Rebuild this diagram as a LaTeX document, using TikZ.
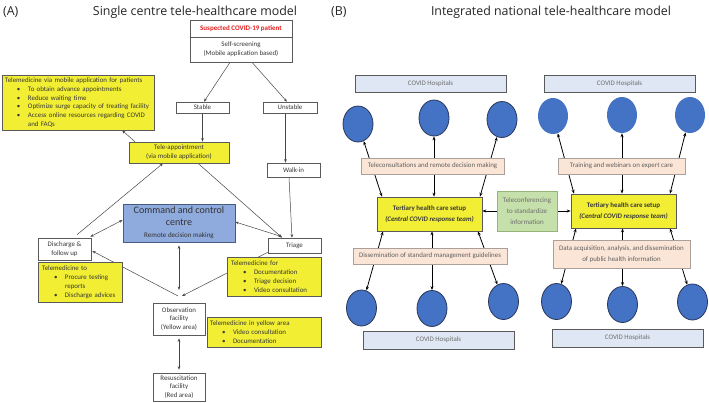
\documentclass[tikz,border=0pt]{standalone}
\usepackage{fontspec}
\setmainfont{Carlito}
\newfontfamily\titlefont{Open Sans}
\usetikzlibrary{arrows.meta,backgrounds,shapes.geometric}
\definecolor{txtgray}{RGB}{55,55,55}
\definecolor{bordgray}{RGB}{90,90,90}
\definecolor{linegray}{RGB}{70,70,70}
\definecolor{yel}{RGB}{242,238,52}
\definecolor{cmdblue}{RGB}{143,170,220}
\definecolor{cmdbord}{RGB}{70,90,130}
\definecolor{cblue}{RGB}{68,114,196}
\definecolor{cbord}{RGB}{40,55,90}
\definecolor{hospblue}{RGB}{222,231,243}
\definecolor{salmon}{RGB}{251,229,214}
\definecolor{salbord}{RGB}{170,160,155}
\definecolor{greenb}{RGB}{197,224,170}
\definecolor{greenbord}{RGB}{150,180,120}
\definecolor{susred}{RGB}{228,30,30}
\definecolor{lighttxt}{RGB}{110,110,110}
\newcommand\tsz{\fontsize{6.9}{8.8}\selectfont}
\newcommand\bi[1]{\hspace*{12pt}\makebox[11pt][l]{\textbullet}#1}
\newcommand\ci{\hspace*{23pt}}
\tikzset{
  wbox/.style={draw=bordgray, fill=white, line width=0.6pt, inner sep=1pt, align=center, font=\tsz, text=txtgray},
  ybox/.style={draw=bordgray, fill=yel, line width=0.6pt, inner xsep=3pt, inner ysep=1pt, align=left, font=\tsz, text=txtgray},
  arr/.style={-{Stealth[length=3.5pt,width=2.6pt]}, line width=0.5pt, draw=linegray},
  dbl/.style={{Stealth[length=3.5pt,width=2.6pt]}-{Stealth[length=3.5pt,width=2.6pt]}, line width=0.5pt, draw=linegray},
  arrb/.style={-{Stealth[length=4pt,width=3pt]}, line width=0.8pt, draw=black},
  dblb/.style={{Stealth[length=4pt,width=3pt]}-{Stealth[length=4pt,width=3pt]}, line width=0.8pt, draw=black},
  hosp/.style={draw=bordgray, fill=hospblue, line width=0.7pt, minimum width=151pt, minimum height=17pt, inner sep=0pt, font=\tsz, text=lighttxt},
  sal/.style={draw=salbord, fill=salmon, line width=0.7pt, inner sep=1pt, align=center, font=\tsz, text=txtgray!80},
  hospc/.style={ellipse, fill=cblue, minimum width=30pt, minimum height=36pt, inner sep=0pt},
  tert/.style={draw=bordgray, fill=yel, line width=0.7pt, minimum width=105pt, minimum height=34pt, inner sep=0pt, align=center, font=\fontsize{6.9}{11}\selectfont\bfseries, text=txtgray},
  ttl/.style={font=\titlefont\fontsize{12.4}{14}\selectfont, text=black!85, inner sep=0pt}
}
\begin{document}
\begin{tikzpicture}[x=1pt,y=-1pt]
\begin{pgfonlayer}{background}
\fill[white] (0,0) rectangle (709,402);
\end{pgfonlayer}
\useasboundingbox (0,0) rectangle (709,402);

% titles
\node[ttl, anchor=west] (ta) at (3,12) {(A)};
\node[ttl] (tA) at (195,12) {Single centre tele-healthcare model};
\node[ttl, anchor=west] (tb) at (331,12) {(B)};
\node[ttl] (tB) at (551,12) {Integrated national tele-healthcare model};

% ---------- Panel A ----------
\node[wbox, minimum width=102pt, minimum height=17pt, text=susred, font=\fontsize{7}{8}\selectfont\bfseries] (sus) at (241,28.5) {Suspected COVID-19 patient};
\node[wbox, minimum width=102pt, minimum height=25pt] (self) at (241,49.5) {Self-screening\\(Mobile application based)};
\node[wbox, minimum width=53pt, minimum height=11pt] (stable) at (202.5,107.5) {Stable};
\node[wbox, minimum width=54pt, minimum height=11pt] (unstable) at (290,107.5) {Unstable};
\node[ybox, text width=146pt, minimum height=55pt] (tmapp) at (78,102.5) {Telemedicine via mobile application for patients\\\bi{To obtain advance appointments}\\\bi{Reduce waiting time}\\\bi{Optimize surge capacity of treating facility}\\\bi{Access online resources regarding COVID}\\\ci and FAQs};
\node[wbox, fill=yel, minimum width=100pt, minimum height=21pt] (teleappt) at (179,152.5) {Tele-appointment\\(via mobile application)};
\node[wbox, minimum width=53pt, minimum height=14pt] (walkin) at (293.5,170) {Walk-in};
\node[draw=cmdbord, fill=cmdblue, line width=0.7pt, minimum width=112pt, minimum height=38pt, inner sep=0pt, align=center, text=black!80] (cmd) at (179,223) {\fontsize{10}{12}\selectfont Command and control\\\fontsize{10}{11}\selectfont centre\\\fontsize{7}{9}\selectfont Remote decision making};
\node[wbox, minimum width=53pt, minimum height=15pt] (triage) at (294.5,245.5) {Triage};
\node[wbox, minimum width=53pt, minimum height=22pt] (discharge) at (64.5,249) {Discharge \&\\follow up};
\node[ybox, inner xsep=4pt, text width=76pt, minimum height=40pt] (tmto) at (80,282) {Telemedicine to\\\bi{Procure testing}\\\ci reports\\\bi{Discharge advices}};
\node[ybox, inner xsep=4pt, text width=86pt, minimum height=39pt] (tmfor) at (274,276.5) {Telemedicine for\\\bi{Documentation}\\\bi{Triage decision}\\\bi{Video consultation}};
\node[wbox, minimum width=52pt, minimum height=32pt] (obs) at (179,319) {Observation\\facility\\(Yellow area)};
\node[ybox, text width=108pt, minimum height=30pt] (tmyel) at (264,332) {Telemedicine in yellow area\\\bi{Video consultation}\\\bi{Documentation}};
\node[wbox, minimum width=52pt, minimum height=28pt] (resus) at (179,387) {Resuscitation\\facility\\(Red area)};
\coordinate (obsin) at (180,296);

\begin{pgfonlayer}{background}
\draw[arr] ([xshift=-11pt]self.south) -- ([xshift=1.5pt]stable.north);
\draw[arr] ([xshift=11pt]self.south) -- ([xshift=-3pt]unstable.north);
\draw[arr] (stable.south) -- (stable.south |- teleappt.north);
\draw[arr] ([xshift=-44pt]teleappt.north) -- ([xshift=44pt]tmapp.south);
\draw[arr] ([xshift=-4.5pt]unstable.south) -- ([xshift=-4.5pt]unstable.south |- walkin.north);
\draw[arr] ([xshift=-4.5pt]walkin.south) -- ([xshift=-2.5pt]triage.north);
\draw[arr] ([xshift=19pt]teleappt.south) -- ([xshift=-12.5pt]triage.north);
\draw[arr] ([xshift=12.5pt,yshift=3pt]discharge.north) -- ([xshift=-16pt]teleappt.south);
\draw[dbl] ([yshift=3pt]cmd.west) -- ([xshift=-1pt,yshift=1pt]discharge.north east);
\draw[dbl] ([yshift=1pt]cmd.east) -- ([xshift=-12.5pt,yshift=1pt]triage.north);
\draw[dbl] ([yshift=-3pt]cmd.south) -- ([xshift=-1pt,yshift=6pt]obsin);
\draw[arr] ([yshift=1pt]triage.south west) -- ([xshift=2pt]obsin);
\draw[arr] ([xshift=-2pt]obsin) -- ([xshift=1pt,yshift=-2pt]discharge.east);
\draw[dbl] ([yshift=-3pt]obs.south) -- ([yshift=3pt]resus.north);
\end{pgfonlayer}

% ---------- Panel B ----------
\node[hosp] (h1) at (430.5,83.5) {COVID Hospitals};
\node[hosp] (h2) at (619.5,83.5) {COVID Hospitals};
\node[hospc, draw=cbord, line width=0.8pt] (c1) at (358,124) {};
\node[hospc, draw=cbord, line width=0.8pt] (c2) at (434,118) {};
\node[hospc, draw=cbord, line width=0.8pt] (c3) at (502,119.5) {};
\node[hospc] (c4) at (553,116) {};
\node[hospc] (c5) at (622,115) {};
\node[hospc] (c6) at (690,115) {};
\node[sal, minimum width=143pt, minimum height=16pt] (tcons) at (432.5,166) {Teleconsultations and remote decision making};
\node[sal, minimum width=127pt, minimum height=16pt] (train) at (621.5,166) {Training and webinars on expert care};
\node[tert] (t1) at (429.5,214) {Tertiary health care setup\\\textit{(Central COVID response team)}};
\node[tert] (t2) at (623.5,211) {Tertiary health care setup\\\textit{(Central COVID response team)}};
\node[draw=greenbord, fill=greenb, line width=0.7pt, minimum width=60pt, minimum height=40pt, inner sep=0pt, align=center, font=\fontsize{7}{11}\selectfont, text=lighttxt] (tconf) at (527,211) {Teleconferencing\\to standardize\\information};
\node[sal, minimum width=154pt, minimum height=16pt] (dissem) at (430,256) {Dissemination of standard management guidelines};
\node[sal, minimum width=137pt, minimum height=28pt, font=\fontsize{6.9}{11}\selectfont] (dacq) at (621.5,254) {Data acquisition, analysis, and dissemination\\of public health information};
\node[hospc, draw=cbord, line width=0.8pt] (b1) at (361.5,308) {};
\node[hospc, draw=cbord, line width=0.8pt] (b2) at (432,308.5) {};
\node[hospc, draw=cbord, line width=0.8pt] (b3) at (503.5,301.5) {};
\node[hospc, draw=cbord, line width=0.8pt] (b4) at (556.5,301.5) {};
\node[hospc, draw=cbord, line width=0.8pt] (b5) at (622.5,304.5) {};
\node[hospc, draw=cbord, line width=0.8pt] (b6) at (692.5,302) {};
\node[hosp, minimum height=18pt] (h3) at (438.5,340) {COVID Hospitals};
\node[hosp, minimum height=18pt] (h4) at (627.5,338) {COVID Hospitals};

\begin{pgfonlayer}{background}
\draw[dblb] (c1) -- ([xshift=-47.5pt]t1.north);
\draw[dblb] (c2) -- (c2 |- t1.north);
\draw[dblb] (c3) -- ([xshift=50.5pt]t1.north);
\draw[dblb] (c4) -- ([xshift=-49.5pt]t2.north);
\draw[dblb] (c5) -- (c5 |- t2.north);
\draw[dblb] (c6) -- ([xshift=46.5pt]t2.north);
\draw[dblb] ([xshift=-46.5pt]t1.south) -- (b1);
\draw[dblb] (b2 |- t1.south) -- (b2);
\draw[dblb] ([xshift=48.5pt]t1.south) -- (b3);
\draw[dblb] ([xshift=-47.5pt]t2.south) -- (b4);
\draw[dblb] (b5 |- t2.south) -- (b5);
\draw[dblb] ([xshift=46.5pt]t2.south) -- (b6);
\draw[arrb] (tconf.west) -- (tconf.west -| t1.east);
\draw[arrb] (tconf.east) -- (tconf.east -| t2.west);
\end{pgfonlayer}
\end{tikzpicture}
\end{document}
